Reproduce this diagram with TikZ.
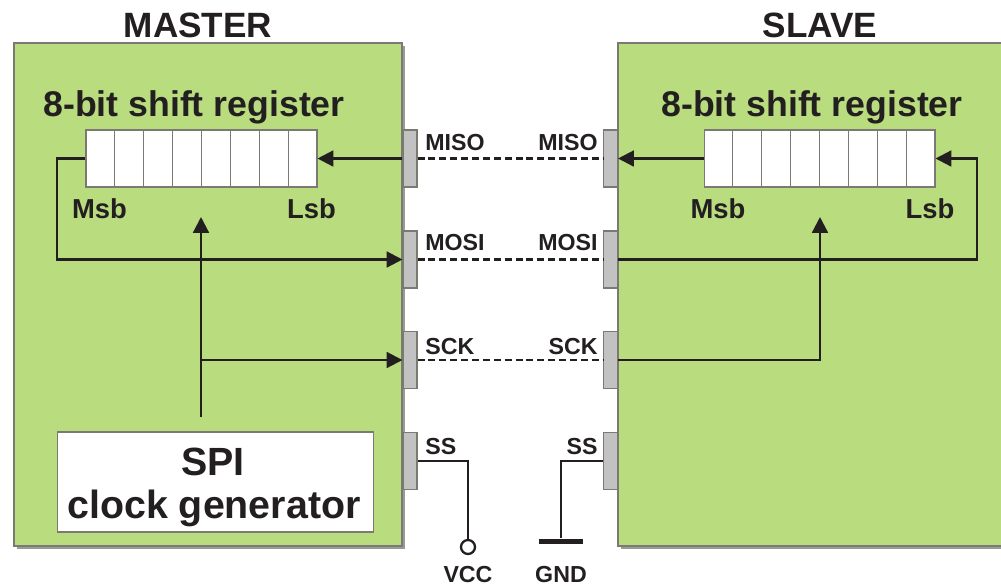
\documentclass[tikz,border=0pt]{standalone}
\usepackage{fontspec}
\setmainfont{Liberation Sans}
\usepackage{tikz}
\usetikzlibrary{positioning, arrows.meta, calc}
\usepackage{xcolor}
\definecolor{Board}{HTML}{B8DC7E}
\definecolor{Edge}{HTML}{7A7A72}
\definecolor{Shade}{HTML}{9A9A9A}
\definecolor{PinGray}{HTML}{C2C2C2}
\definecolor{Ink}{HTML}{231F20}

\tikzset{
    board/.style={fill=Board, draw=Edge, line width=0.6pt},
    shade/.style={fill=Shade, draw=none},
    pinbox/.style={rectangle, fill=PinGray, draw=Edge, line width=0.6pt,
        minimum width=0.28cm, minimum height=1.14cm, inner sep=0pt},
    shiftreg/.style={rectangle, fill=white, draw=Edge, line width=0.6pt,
        minimum width=4.62cm, minimum height=1.14cm, inner sep=0pt},
    cellline/.style={draw=Edge, line width=0.6pt},
    wire/.style={draw=Ink, line width=1.3pt},
    arr/.style={wire, -{Triangle[length=9pt, width=9pt]}},
    bus/.style={draw=Ink, line width=1.3pt, dash pattern=on 4pt off 2.2pt},
    title/.style={text=Ink, font=\fontsize{20}{22}\selectfont\bfseries, inner sep=0pt},
    reglabel/.style={text=Ink, font=\fontsize{20.3}{22}\selectfont\bfseries, inner sep=0pt},
    bitlabel/.style={text=Ink, font=\fontsize{15.6}{17}\selectfont\bfseries, inner sep=0pt},
    small/.style={text=Ink, font=\fontsize{13.2}{15}\selectfont\bfseries, inner sep=0pt},
    big/.style={text=Ink, font=\fontsize{22.4}{25}\selectfont\bfseries, inner sep=0pt}
}

\begin{document}
\begin{tikzpicture}[x=0.02cm, y=-0.02cm]

\useasboundingbox (0,0) rectangle (1001,586);
\clip (0,0) rectangle (1001,586);

% === boards ===
\fill[shade] (17,46) rectangle (405,549);
\draw[board] (14,43) rectangle (402,546);
\fill[shade] (621,46) rectangle (1020,549);
\draw[board] (618,43) rectangle (1015,546);

\node[title] (mtitle) at (198,25) {MASTER};
\node[title] (stitle) at (820,25) {SLAVE};

% === shift registers ===
\node[shiftreg] (mreg) at (201.5,158.5) {};
\node[shiftreg] (sreg) at (819.5,158.5) {};
\foreach \r in {mreg,sreg}
    \foreach \i in {1,...,7}
        \draw[cellline] ($(\r.north west)!\i/8!(\r.north east)$) -- ($(\r.south west)!\i/8!(\r.south east)$);

\node[reglabel] (mregtxt) at (194,107) {8-bit shift register};
\node[reglabel] (sregtxt) at (812,107) {8-bit shift register};

\node[bitlabel] (mmsb) at (99.5,209) {Msb};
\node[bitlabel] (mlsb) at (311.5,209) {Lsb};
\node[bitlabel] (smsb) at (718,209) {Msb};
\node[bitlabel] (slsb) at (930,209) {Lsb};

% === clock generator ===
\node[rectangle, fill=white, draw=Edge, line width=0.6pt, minimum width=6.34cm,
    minimum height=2cm] (clkgen) at (215.5,482) {};
\node[big] (spi) at (213,462) {SPI};
\node[big] (clktxt) at (214,508) {clock generator};

% === pins ===
\node[pinbox] (mmiso) at (410,158.5) {};
\node[pinbox] (mmosi) at (410,259.5) {};
\node[pinbox] (msck) at (410,360) {};
\node[pinbox] (mss) at (410,461) {};
\node[pinbox] (smiso) at (610.5,158.5) {};
\node[pinbox] (smosi) at (610.5,259.5) {};
\node[pinbox] (ssck) at (610.5,360) {};
\node[pinbox] (sss) at (610.5,461) {};

\node[small, anchor=west] (lmiso) at (425,143) {MISO};
\node[small, anchor=west] (lmosi) at (425,243) {MOSI};
\node[small, anchor=west] (lsck) at (425,347) {SCK};
\node[small, anchor=west] (lss) at (425,447) {SS};
\node[small, anchor=east] (rmiso) at (598,143) {MISO};
\node[small, anchor=east] (rmosi) at (598,243) {MOSI};
\node[small, anchor=east] (rsck) at (598,347) {SCK};
\node[small, anchor=east] (rss) at (598,447) {SS};

% === bus lines between the boards ===
\foreach \s in {miso,mosi,sck}
    \draw[bus] (m\s.east) -- (s\s.west);

% === master wiring ===
\coordinate (mloop) at (57,259.5);
\coordinate (mclk) at (201,417);
\coordinate (mshift) at (201,217);
\draw[arr] (mmiso.west) -- (mreg.east);
\draw[arr] (mreg.west) -| (mloop) -- (mmosi.west);
\draw[arr] (mclk) -- (mshift);
\draw[arr] (mclk |- msck.west) -- (msck.west);

% === slave wiring ===
\coordinate (sloop) at (977,259.5);
\coordinate (sshift) at (820,217);
\draw[arr] (sreg.west) -- (smiso.east);
\draw[arr] (smosi.east) -- (sloop) |- (sreg.east);
\draw[arr] (ssck.east) -| (sshift);

% === slave select ===
\node[circle, draw=Ink, line width=1.3pt, fill=white, minimum size=0.28cm,
    inner sep=0pt] (vcc) at (468,547) {};
\node[rectangle, fill=Ink, minimum width=0.88cm, minimum height=0.1cm,
    inner sep=0pt] (gnd) at (561,541) {};
\draw[wire] (mss.east) -| (vcc.north);
\draw[wire] (sss.west) -| (gnd.north);
\node[small] (vcctxt) at (468,575) {VCC};
\node[small] (gndtxt) at (561,575) {GND};

\end{tikzpicture}
\end{document}
